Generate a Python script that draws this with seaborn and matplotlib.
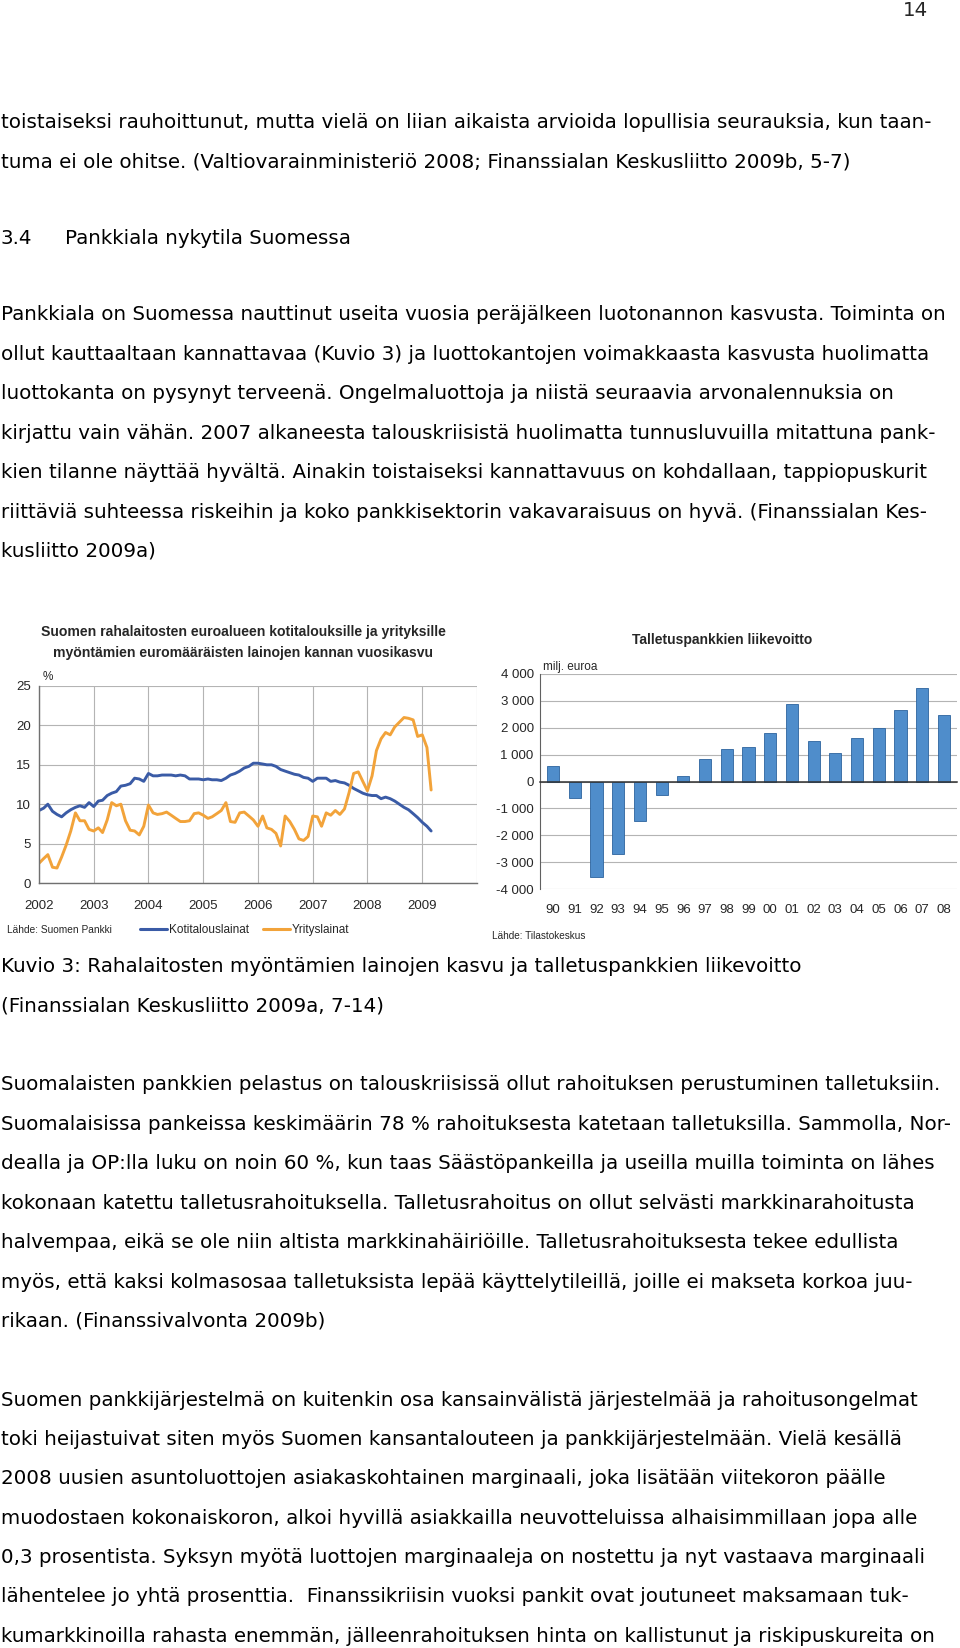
import numpy as np
import pandas as pd
import matplotlib
matplotlib.use("Agg")
import matplotlib.pyplot as plt
import seaborn as sns

W, H = 960, 1648

# -------------------------------------------------------------------------
# Data
# -------------------------------------------------------------------------

# Left chart: annual growth of euro loan stock (%), monthly 2002-01 .. 2009-03
kuukaudet = pd.date_range("2002-01-01", "2009-03-01", freq="MS")
kotitalouslainat = [
    9.2, 9.5, 10.0, 9.1, 8.7, 8.4, 8.9, 9.3, 9.6, 9.8, 9.6, 10.2,
    9.7, 10.4, 10.5, 11.1, 11.4, 11.6, 12.3, 12.4, 12.6, 13.3, 13.2, 12.9,
    13.9, 13.6, 13.6, 13.7, 13.7, 13.7, 13.6, 13.7, 13.6, 13.2, 13.2, 13.2,
    13.1, 13.2, 13.1, 13.1, 13.0, 13.3, 13.7, 13.9, 14.2, 14.6, 14.8, 15.2,
    15.2, 15.1, 15.0, 15.0, 14.8, 14.4, 14.2, 14.0, 13.8, 13.7, 13.4, 13.3,
    12.9, 13.3, 13.3, 13.3, 12.9, 13.0, 12.8, 12.7, 12.4, 12.0, 11.7, 11.4,
    11.2, 11.1, 11.1, 10.7, 10.9, 10.7, 10.4, 10.0, 9.6, 9.3, 8.8, 8.3,
    7.7, 7.2, 6.6,
]
yrityslainat = [
    2.5, 3.1, 3.6, 2.0, 1.9, 3.3, 4.8, 6.6, 8.9, 7.9, 7.9, 6.8,
    6.6, 7.0, 6.4, 8.0, 10.2, 9.8, 10.0, 7.9, 6.7, 6.6, 6.1, 7.2,
    9.9, 8.9, 8.7, 8.8, 9.0, 8.6, 8.2, 7.8, 7.8, 7.9, 8.8, 8.9,
    8.6, 8.2, 8.4, 8.8, 9.2, 10.2, 7.8, 7.7, 8.9, 9.0, 8.5, 8.0,
    7.2, 8.5, 7.0, 6.8, 6.3, 4.7, 8.5, 7.8, 6.8, 5.6, 5.4, 5.9,
    8.5, 8.4, 7.2, 8.9, 8.6, 9.2, 8.7, 9.4, 11.5, 13.9, 14.1, 12.9,
    11.7, 13.6, 16.8, 18.3, 19.1, 18.8, 19.8, 20.4, 21.0, 20.9, 20.7, 18.6,
    18.8, 17.2, 11.8,
]
vuosi_tikit = [str(v) for v in range(2002, 2010)]

# Right chart: operating profit of deposit banks, million euro
vuodet = ["90", "91", "92", "93", "94", "95", "96", "97", "98", "99",
          "00", "01", "02", "03", "04", "05", "06", "07", "08"]
liikevoitto = [560, -620, -3570, -2710, -1470, -500, 220, 830, 1200, 1280,
               1800, 2890, 1500, 1060, 1630, 1990, 2670, 3490, 2480]
y_tikit = [-4000, -3000, -2000, -1000, 0, 1000, 2000, 3000, 4000]

# Page text
rivi_alku = [
    "toistaiseksi rauhoittunut, mutta vielä on liian aikaista arvioida lopullisia seurauksia, kun taan-",
    "tuma ei ole ohitse. (Valtiovarainministeriö 2008; Finanssialan Keskusliitto 2009b, 5-7)",
]
kpl_1 = [
    "Pankkiala on Suomessa nauttinut useita vuosia peräjälkeen luotonannon kasvusta. Toiminta on",
    "ollut kauttaaltaan kannattavaa (Kuvio 3) ja luottokantojen voimakkaasta kasvusta huolimatta",
    "luottokanta on pysynyt terveenä. Ongelmaluottoja ja niistä seuraavia arvonalennuksia on",
    "kirjattu vain vähän. 2007 alkaneesta talouskriisistä huolimatta tunnusluvuilla mitattuna pank-",
    "kien tilanne näyttää hyvältä. Ainakin toistaiseksi kannattavuus on kohdallaan, tappiopuskurit",
    "riittäviä suhteessa riskeihin ja koko pankkisektorin vakavaraisuus on hyvä. (Finanssialan Kes-",
    "kusliitto 2009a)",
]
kuvateksti = [
    "Kuvio 3: Rahalaitosten myöntämien lainojen kasvu ja talletuspankkien liikevoitto",
    "(Finanssialan Keskusliitto 2009a, 7-14)",
]
kpl_2 = [
    "Suomalaisten pankkien pelastus on talouskriisissä ollut rahoituksen perustuminen talletuksiin.",
    "Suomalaisissa pankeissa keskimäärin 78 % rahoituksesta katetaan talletuksilla. Sammolla, Nor-",
    "dealla ja OP:lla luku on noin 60 %, kun taas Säästöpankeilla ja useilla muilla toiminta on lähes",
    "kokonaan katettu talletusrahoituksella. Talletusrahoitus on ollut selvästi markkinarahoitusta",
    "halvempaa, eikä se ole niin altista markkinahäiriöille. Talletusrahoituksesta tekee edullista",
    "myös, että kaksi kolmasosaa talletuksista lepää käyttelytileillä, joille ei makseta korkoa juu-",
    "rikaan. (Finanssivalvonta 2009b)",
]
kpl_3 = [
    "Suomen pankkijärjestelmä on kuitenkin osa kansainvälistä järjestelmää ja rahoitusongelmat",
    "toki heijastuivat siten myös Suomen kansantalouteen ja pankkijärjestelmään. Vielä kesällä",
    "2008 uusien asuntoluottojen asiakaskohtainen marginaali, joka lisätään viitekoron päälle",
    "muodostaen kokonaiskoron, alkoi hyvillä asiakkailla neuvotteluissa alhaisimmillaan jopa alle",
    "0,3 prosentista. Syksyn myötä luottojen marginaaleja on nostettu ja nyt vastaava marginaali",
    "lähentelee jo yhtä prosenttia.  Finanssikriisin vuoksi pankit ovat joutuneet maksamaan tuk-",
    "kumarkkinoilla rahasta enemmän, jälleenrahoituksen hinta on kallistunut ja riskipuskureita on",
]

BLUE = "#3a5ba6"
ORANGE = "#f2a33a"
BAR = "#4f8dcb"
BAR_EDGE = "#2d649e"
GRID = "#b4b4b4"

BODY_FONT = "DejaVu Sans"
CHART_FONT = "Liberation Sans"
BODY_PT = 14.3
LINE_GAP = 39.4

sns.set_style("white")
plt.rcParams["font.family"] = [CHART_FONT, "DejaVu Sans"]

fig = plt.figure(figsize=(W / 100, H / 100), dpi=100)


def fx(px):
    return px / W


def fy(px):
    return 1 - px / H


def body(x_px, y_px, s, **kw):
    fig.text(fx(x_px), fy(y_px), s, fontsize=BODY_PT, va="center", ha="left",
             family=[BODY_FONT], color="black", **kw)


def paragraph(lines, y0):
    for i, line in enumerate(lines):
        body(1, y0 + i * LINE_GAP, line)


# -------------------------------------------------------------------------
# Page text
# -------------------------------------------------------------------------
fig.text(fx(928), fy(11), "14", fontsize=BODY_PT, ha="right", va="center",
         family=[BODY_FONT])
paragraph(rivi_alku, 123)
body(1, 238, "3.4")
body(65, 238, "Pankkiala nykytila Suomessa")
paragraph(kpl_1, 315)
paragraph(kuvateksti, 967)
paragraph(kpl_2, 1085)
paragraph(kpl_3, 1400)

# -------------------------------------------------------------------------
# Left chart: loan growth
# -------------------------------------------------------------------------
ax1 = fig.add_axes([fx(39), fy(883), 438 / W, 197 / H])
df = pd.DataFrame({"kk": kuukaudet,
                   "Kotitalouslainat": kotitalouslainat,
                   "Yrityslainat": yrityslainat})
df_long = df.melt(id_vars="kk", var_name="sarja", value_name="kasvu")
sns.lineplot(data=df_long, x="kk", y="kasvu", hue="sarja",
             palette=[BLUE, ORANGE], linewidth=2.1, ax=ax1)

ax1.set_xlim(pd.Timestamp("2002-01-01"), pd.Timestamp("2010-01-01"))
ax1.set_ylim(0, 25)
ax1.set_yticks([0, 5, 10, 15, 20, 25])
year_pos = [pd.Timestamp(f"{v}-01-01") for v in range(2002, 2011)]
ax1.set_xticks(year_pos)
ax1.set_xticklabels(vuosi_tikit + [""])
ax1.set_xlabel("")
ax1.set_ylabel("")
ax1.grid(True, color=GRID, linewidth=0.8)
for side in ["top", "right"]:
    ax1.spines[side].set_visible(False)
for side in ["left", "bottom"]:
    ax1.spines[side].set_color("#707070")
    ax1.spines[side].set_linewidth(1.0)
ax1.tick_params(axis="x", direction="out", length=3, width=0.8, color="#707070",
                pad=9, labelsize=9.5)
ax1.tick_params(axis="y", direction="out", length=2.5, width=0.8, color="#707070",
                pad=3.5, labelsize=9.5)
sns.move_legend(ax1, loc="center left", bbox_to_anchor=(0.23, -0.238),
                ncol=2, frameon=False, title=None, fontsize=8.5,
                handlelength=2.3, handletextpad=0.15, columnspacing=1.2,
                borderaxespad=0, borderpad=0)
for line in ax1.get_legend().get_lines():
    line.set_linewidth(2.2)

fig.text(fx(243), fy(632), "Suomen rahalaitosten euroalueen kotitalouksille ja yrityksille",
         ha="center", va="center", fontsize=10.1, fontweight="bold")
fig.text(fx(243), fy(653), "myöntämien euromääräisten lainojen kannan vuosikasvu",
         ha="center", va="center", fontsize=10.1, fontweight="bold")
fig.text(fx(43), fy(677), "%", ha="left", va="center", fontsize=8.5)
fig.text(fx(7), fy(930), "Lähde: Suomen Pankki", ha="left", va="center", fontsize=7.3)

# -------------------------------------------------------------------------
# Right chart: deposit bank operating profit
# -------------------------------------------------------------------------
ax2 = fig.add_axes([fx(540), fy(889), 417 / W, 215 / H])
sns.barplot(x=vuodet, y=liikevoitto, color=BAR, edgecolor=BAR_EDGE,
            linewidth=0.6, width=0.56, saturation=1, ax=ax2)
ax2.set_xlim(-0.6, len(vuodet) - 0.4)
ax2.set_ylim(-4000, 4000)
ax2.set_yticks(y_tikit)
ax2.set_yticklabels([f"{v:,}".replace(",", " ") for v in y_tikit])
ax2.yaxis.grid(True, color=GRID, linewidth=0.8)
ax2.xaxis.grid(False)
ax2.set_axisbelow(True)
for side in ["top", "right"]:
    ax2.spines[side].set_visible(False)
ax2.spines["left"].set_color("#606060")
ax2.spines["bottom"].set_position(("data", 0))
ax2.spines["bottom"].set_color("#303030")
ax2.spines["bottom"].set_linewidth(1.1)
ax2.set_xticks(np.arange(len(vuodet) - 1) + 0.5, minor=True)
ax2.tick_params(axis="x", which="major", length=0, pad=88, labelsize=9.5)
ax2.tick_params(axis="x", which="minor", direction="out", length=3,
                width=0.9, color="#303030")
ax2.tick_params(axis="y", direction="out", length=2.5, width=0.8,
                color="#606060", pad=2, labelsize=9.5)
ax2.set_xlabel("")
ax2.set_ylabel("")

fig.text(fx(722), fy(640), "Talletuspankkien liikevoitto", ha="center", va="center",
         fontsize=10, fontweight="bold")
fig.text(fx(543), fy(667), "milj. euroa", ha="left", va="center", fontsize=8.5)
fig.text(fx(492), fy(936), "Lähde: Tilastokeskus", ha="left", va="center", fontsize=7.2)

fig.savefig("out.png", dpi=100, facecolor="white")
